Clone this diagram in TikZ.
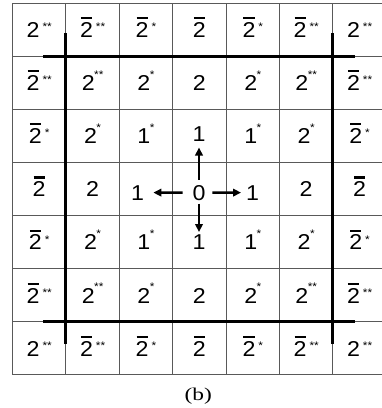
\documentclass[tikz,border=0pt]{standalone}
\usepackage{fontspec}
\setmainfont{Liberation Sans}
\newfontfamily\lblfont[FakeStretch=1.08]{Liberation Sans}
\newfontfamily\capfont{Liberation Serif}
\usetikzlibrary{arrows.meta}
% digit with a bar above it
\newcommand\Bar[1]{\setbox0\hbox{#1}\rlap{\hskip0.9pt\raisebox{18.3pt}{\rule{\dimexpr\wd0-1.8pt\relax}{2.1pt}}}\box0}
% raised stars: inner cells (high, close) and outer cells (lower, spaced)
\newcommand\si[1]{\hskip-0.5pt\raisebox{12.3pt}{\fontsize{11}{11}\selectfont#1}}
\newcommand\so[1]{\hskip3pt\raisebox{6.8pt}{\fontsize{11}{11}\selectfont#1}}
\tikzset{
  lbl/.style={inner sep=0pt, anchor=base, font=\lblfont\fontsize{21.5}{21.5}\selectfont},
  gridline/.style={line width=1pt, draw=black!65},
  thickline/.style={line width=3pt, draw=black},
  arr/.style={line width=2.5pt, -{Triangle[length=8pt,width=7.5pt]}},
}
\begin{document}
\begin{tikzpicture}[x=1pt,y=-1pt]
\useasboundingbox (0,0) rectangle (382,408);
\fill[white] (0,0) rectangle (382,408);
% grid
\foreach \k in {0,...,7}{
  \draw[gridline] (12.5,{3+53.14*\k}) -- (382,{3+53.14*\k});
}
\foreach \k in {0,...,6}{
  \draw[gridline] ({12.5+53.4*\k},3) -- ({12.5+53.4*\k},375);
}
% thick frame lines
\draw[thickline] (43,56.14) -- (355,56.14);
\draw[thickline] (43,321.84) -- (355,321.84);
\draw[thickline] (65.9,33) -- (65.9,343.5);
\draw[thickline] (332.9,33) -- (332.9,343.5);
% labels
\foreach \r/\c/\t in {
  0/0/2\so{**}, 0/1/\Bar{2}\so{**}, 0/2/\Bar{2}\so{*}, 0/3/\Bar{2}, 0/4/\Bar{2}\so{*}, 0/5/\Bar{2}\so{**}, 0/6/2\so{**},
  1/0/\Bar{2}\so{**}, 1/1/2\si{**}, 1/2/2\si{*}, 1/3/2, 1/4/2\si{*}, 1/5/2\si{**}, 1/6/\Bar{2}\so{**},
  2/0/\Bar{2}\so{*}, 2/1/2\si{*}, 2/2/1\si{*}, 2/4/1\si{*}, 2/5/2\si{*}, 2/6/\Bar{2}\so{*},
  3/0/\Bar{2}, 3/1/2, 3/5/2, 3/6/\Bar{2},
  4/0/\Bar{2}\so{*}, 4/1/2\si{*}, 4/2/1\si{*}, 4/4/1\si{*}, 4/5/2\si{*}, 4/6/\Bar{2}\so{*},
  5/0/\Bar{2}\so{**}, 5/1/2\si{**}, 5/2/2\si{*}, 5/3/2, 5/4/2\si{*}, 5/5/2\si{**}, 5/6/\Bar{2}\so{**},
  6/0/2\so{**}, 6/1/\Bar{2}\so{**}, 6/2/\Bar{2}\so{*}, 6/3/\Bar{2}, 6/4/\Bar{2}\so{*}, 6/5/\Bar{2}\so{**}, 6/6/2\so{**}}{
  \node[lbl] (n\r\c) at ({39.2+53.4*\c},{37.4+53.14*\r}) {\t};
}
% centre cross
\node[lbl] (n33) at (199,200) {0};
\node[lbl] (n32) at (137.5,200) {1};
\node[lbl] (n34) at (252.5,200) {1};
\node[lbl] (n23) at (199,141.5) {1};
\node[lbl] (n43) at (199,249.5) {1};
\draw[arr, shorten <=9.8pt, shorten >=9.2pt] (n33) -- (n32);
\draw[arr, shorten <=6.6pt, shorten >=4.8pt] (n33) -- (n34);
\draw[arr, shorten <=5pt, shorten >=5.8pt] (n33) -- (n23);
\draw[arr, shorten <=3.3pt, shorten >=2.5pt] (n33) -- (n43);
% caption
\node[font=\capfont\fontsize{18}{18}\selectfont, inner sep=0pt] (cap) at (198.3,396) {\scalebox{1.3}[1]{(b)}};
\end{tikzpicture}
\end{document}
